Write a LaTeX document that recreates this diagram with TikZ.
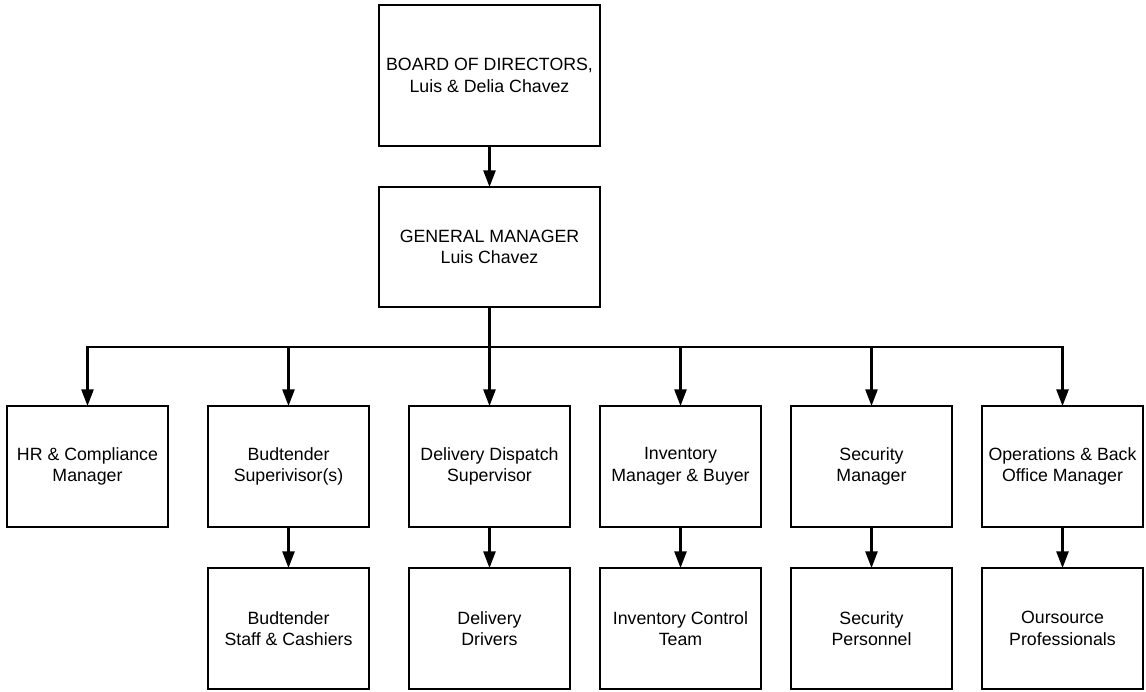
\documentclass[tikz,border=0pt]{standalone}
\usepackage{fontspec}
\setmainfont{Liberation Sans}
\usepackage{tikz}
\usetikzlibrary{arrows.meta,positioning}

\begin{document}
\begin{tikzpicture}[role/.style={rectangle,draw=black,line width=1.3pt,inner sep=0pt,outer sep=0pt,minimum width=3.22cm,minimum height=2.42cm,align=center,font=\fontsize{10.1}{12.3}\selectfont}, top/.style={role,minimum width=4.42cm}, link/.style={line width=1.3pt,-{Triangle[length=0.33cm,width=0.24cm]}}, node distance=0.82cm]
	\useasboundingbox (0,0) rectangle (22.92,-13.84);
	\node (board) [top,minimum height=2.82cm] at (9.79,-1.51) {BOARD OF DIRECTORS,\\Luis \& Delia Chavez};
	\node (gm) [top,minimum height=2.40cm,below=of board] {GENERAL MANAGER\\Luis Chavez};
	\node (dd) [role,below=1.98cm of gm] {Delivery Dispatch\\Supervisor};
	\node (bt) [role,left=0.8cm of dd] {Budtender\\Superivisor(s)};
	\node (hr) [role,left=0.8cm of bt] {HR \& Compliance\\Manager};
	\node (inv) [role,right=0.6cm of dd] {Inventory\\Manager \& Buyer};
	\node (sec) [role,right=0.6cm of inv] {Security\\Manager};
	\node (ops) [role,right=0.6cm of sec] {Operations \& Back\\Office Manager};
	\node (staff) [role,below=of bt] {Budtender\\Staff \& Cashiers};
	\node (drv) [role,below=of dd] {Delivery\\Drivers};
	\node (ict) [role,below=of inv] {Inventory Control\\Team};
	\node (pers) [role,below=of sec] {Security\\Personnel};
	\node (out) [role,below=of ops] {Oursource\\Professionals};
	\coordinate (bus) at ([yshift=-0.8cm]gm.south);
	\path (board) edge[link] (gm);
	\draw[line width=1.3pt] (gm.south) -- (bus);
	\draw[link] (bus) -| (hr.north);
	\draw[link] (bus) -| (bt.north);
	\draw[link] (bus) -- (dd.north);
	\draw[link] (bus) -| (inv.north);
	\draw[link] (bus) -| (sec.north);
	\draw[link] (bus) -| (ops.north);
	\path (bt) edge[link] (staff);
	\path (dd) edge[link] (drv);
	\path (inv) edge[link] (ict);
	\path (sec) edge[link] (pers);
	\path (ops) edge[link] (out);
\end{tikzpicture}
\end{document}
